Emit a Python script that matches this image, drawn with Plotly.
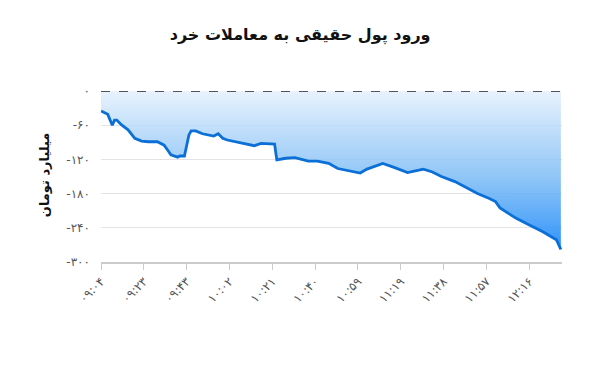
import plotly.graph_objects as go

# sample index (one per minute-ish sample) and net real money inflow (billion toman)
sample_idx = [0, 2, 3, 5, 6, 7, 9, 12, 15, 18, 21, 25, 28, 30, 31, 34, 35, 37, 38, 39,
              40, 42, 45, 50, 52, 54, 56, 60, 64, 68, 71, 77, 78, 82, 86, 92, 96, 101,
              105, 110, 115, 118, 125, 130, 136, 141, 143, 147, 151, 157, 161, 167, 172,
              175, 177, 184, 190, 196, 202, 204]
values = [-35, -39, -41, -60, -51, -51, -59, -68, -83, -88, -89, -89, -95, -106, -112,
          -116, -114, -114, -95, -77, -70, -70, -75, -79, -75, -83, -86, -89, -92, -96,
          -92, -93, -121, -118, -117, -123, -123, -127, -136, -140, -144, -137, -127,
          -134, -143, -139, -137, -142, -150, -159, -168, -180, -188, -194, -205, -223,
          -235, -247, -261, -278]

x_tick_pos = [0, 19, 38, 57, 76, 95, 114, 133, 152, 171, 190]
x_tick_text = ['۰۹:۰۴', '۰۹:۲۳', '۰۹:۴۳', '۱۰:۰۲', '۱۰:۲۱', '۱۰:۴۰',
               '۱۰:۵۹', '۱۱:۱۹', '۱۱:۳۸', '۱۱:۵۷', '۱۲:۱۶']
y_tick_vals = [0, -60, -120, -180, -240, -300]
y_tick_text = ['۰', '-۶۰', '-۱۲۰', '-۱۸۰', '-۲۴۰', '-۳۰۰']

title_text = 'ورود پول حقیقی به معاملات خرد'
y_title = 'میلیارد تومان'

FONT = 'DejaVu Sans'

fig = go.Figure()
# zero reference (dashed line)
fig.add_trace(go.Scatter(
    x=[sample_idx[0], sample_idx[-1]], y=[0, 0], mode='lines',
    line=dict(color='#222222', width=1.5, dash='dash'),
    hoverinfo='skip', showlegend=False, cliponaxis=False))
# data line filled up to zero
fig.add_trace(go.Scatter(
    x=sample_idx, y=values, mode='lines',
    line=dict(color='#0a6fd6', width=2.8),
    fill='tonexty',
    fillgradient=dict(type='vertical', start=-300, stop=0,
                      colorscale=[[0, 'rgba(16,130,250,0.95)'],
                                  [0.5, 'rgba(125,188,245,0.85)'],
                                  [1, 'rgba(228,240,253,0.85)']]),
    showlegend=False))

fig.update_layout(
    width=592, height=365,
    margin=dict(l=101, r=30, t=91, b=103),
    paper_bgcolor='white', plot_bgcolor='white',
    font=dict(family=FONT, color='#555555', size=12),
    title=dict(text='<b>' + title_text + '</b>', x=0.507, xanchor='center',
               y=0.905, yanchor='middle', yref='container',
               font=dict(family=FONT, size=16, color='#111111')),
    xaxis=dict(range=[0, 204.5], tickvals=x_tick_pos, ticktext=x_tick_text,
               tickangle=-45, showgrid=False, zeroline=False,
               showline=True, linecolor='#cccccc', linewidth=1.5,
               ticks='outside', ticklen=6, tickcolor='#cccccc', tickwidth=1,
               tickfont=dict(size=12, color='#555555')),
    yaxis=dict(range=[-300, 0], tickvals=y_tick_vals, ticktext=y_tick_text,
               showgrid=True, gridcolor='#e3e3e3', gridwidth=1.2, zeroline=False,
               showline=False, ticks='', ticklabelstandoff=10,
               tickfont=dict(size=12, color='#555555')),
    annotations=[dict(text='<b>' + y_title + '</b>', textangle=-90,
                      xref='paper', yref='paper', x=-0.121, y=0.509,
                      xanchor='center', yanchor='middle', showarrow=False,
                      font=dict(family=FONT, size=13, color='#111111'))],
)

fig.write_html('out.html')
